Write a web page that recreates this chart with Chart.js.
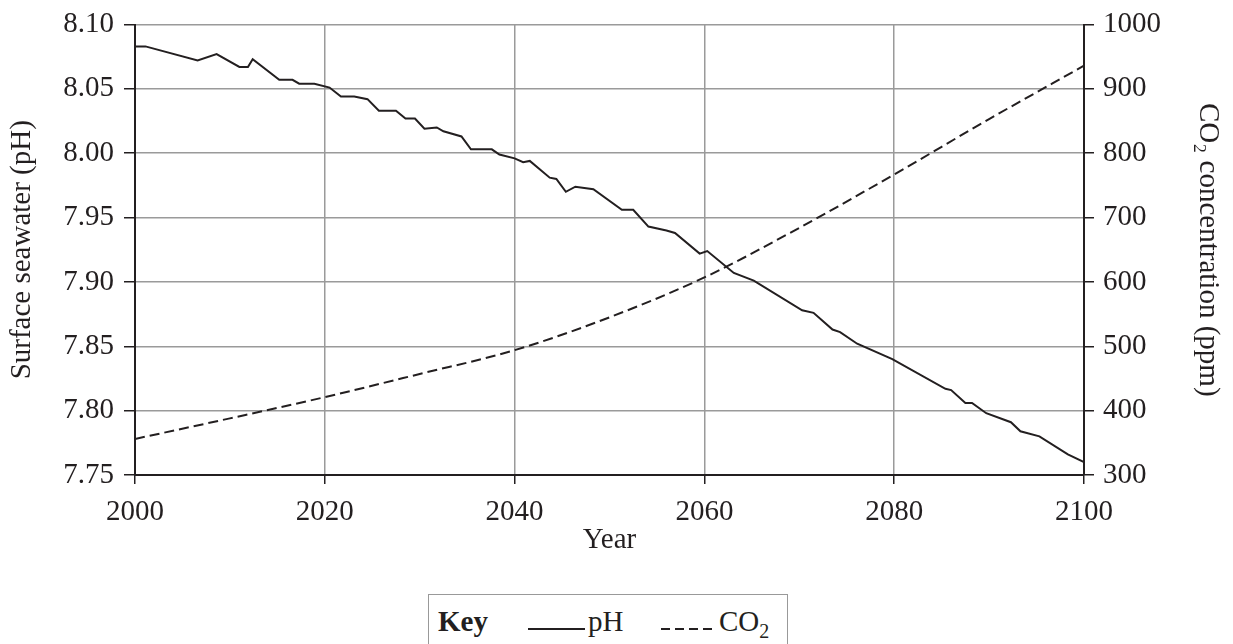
<!DOCTYPE html>
<html>
<head>
<meta charset="utf-8">
<script src="https://cdn.jsdelivr.net/npm/chart.js@4"></script>
<style>
  html, body { margin: 0; padding: 0; background: #fff; overflow: hidden; }
  #wrap { position: relative; width: 1233px; height: 644px; }
  #chart { position: absolute; left: 0; top: 0; }
  #key {
    position: absolute; left: 428px; top: 594px; width: 360px; height: 60px;
    border: 1px solid #999; box-sizing: border-box;
    font-family: "Liberation Serif", "DejaVu Serif", serif; font-size: 29px; color: #231f20;
  }
  #key span { position: absolute; top: 10px; line-height: 32px; white-space: nowrap; }
  #key svg { position: absolute; top: 32px; }
  #key sub { font-size: 20px; vertical-align: -7px; line-height: 0; }
</style>
</head>
<body>
<div id="wrap">
  <canvas id="chart" width="1233" height="575"></canvas>
  <div id="key">
    <span style="left:9px;font-weight:bold">Key</span>
    <svg style="left:99px" width="57" height="4"><line x1="0" y1="2" x2="57" y2="2" stroke="#231f20" stroke-width="2"/></svg>
    <span style="left:159px">pH</span>
    <svg style="left:232px" width="54" height="4"><line x1="0" y1="2" x2="54" y2="2" stroke="#231f20" stroke-width="2" stroke-dasharray="9,5"/></svg>
    <span style="left:290px">CO<sub>2</sub></span>
  </div>
</div>
<script>
const phYears = [2000, 2001.1, 2006.6, 2008.6, 2011.0, 2011.9, 2012.4, 2015.2, 2016.6, 2017.3,
  2018.9, 2020.5, 2021.7, 2023.1, 2024.5, 2025.7, 2027.5, 2028.5, 2029.5, 2030.5,
  2031.8, 2032.5, 2034.4, 2035.4, 2037.6, 2038.4, 2040.0, 2040.9, 2041.6, 2043.7,
  2044.4, 2045.4, 2046.4, 2048.3, 2051.3, 2052.5, 2054.1, 2056.0, 2056.9, 2059.5,
  2060.3, 2063.1, 2065.2, 2070.3, 2071.5, 2073.5, 2074.3, 2076.1, 2079.8, 2085.4,
  2086.0, 2087.5, 2088.2, 2089.7, 2092.3, 2093.3, 2095.3, 2098.3, 2100];
const phValues = [8.083, 8.083, 8.072, 8.077, 8.067, 8.067, 8.073, 8.057, 8.057, 8.054,
  8.054, 8.051, 8.044, 8.044, 8.042, 8.033, 8.033, 8.027, 8.027, 8.019,
  8.020, 8.017, 8.013, 8.003, 8.003, 7.999, 7.996, 7.993, 7.994, 7.981,
  7.980, 7.970, 7.974, 7.972, 7.956, 7.956, 7.943, 7.940, 7.938, 7.922,
  7.924, 7.907, 7.901, 7.878, 7.876, 7.863, 7.861, 7.852, 7.840, 7.817,
  7.816, 7.806, 7.806, 7.798, 7.791, 7.784, 7.780, 7.766, 7.760];

const co2Years = [2000, 2010, 2020, 2030, 2040, 2050, 2060, 2070, 2080, 2090, 2100];
const co2Values = [356, 388, 421, 457, 494, 545, 607, 684, 767, 853, 936];

const yearTicks = [2000, 2020, 2040, 2060, 2080, 2100];

const ink = '#231f20';
const grey = '#9a9a9a';
const serif = '"Liberation Serif", "DejaVu Serif", serif';
const tickFont = { family: serif, size: 29 };
const yTickFont = { family: serif, size: 29, lineHeight: 1 };
const titleFont = { family: serif, size: 29 };

new Chart(document.getElementById('chart'), {
  type: 'line',
  data: {
    datasets: [{
      label: 'pH',
      data: phYears.map((x, i) => ({ x: x, y: phValues[i] })),
      borderColor: ink,
      borderWidth: 2,
      pointRadius: 0,
      tension: 0,
      yAxisID: 'y'
    }, {
      label: 'CO₂',
      data: co2Years.map((x, i) => ({ x: x, y: co2Values[i] })),
      borderColor: ink,
      borderWidth: 2,
      borderDash: [10, 5],
      pointRadius: 0,
      cubicInterpolationMode: 'monotone',
      yAxisID: 'y2'
    }]
  },
  options: {
    responsive: false,
    animation: false,
    layout: { padding: { top: 23, right: 0, left: 0, bottom: 0 } },
    plugins: { legend: { display: false }, tooltip: { enabled: false } },
    scales: {
      x: {
        type: 'linear',
        min: 2000,
        max: 2100,
        afterBuildTicks: s => { s.ticks = yearTicks.map(v => ({ value: v })); },
        afterFit: s => { s.height = 100; },
        ticks: { color: ink, font: tickFont, padding: 11, maxRotation: 0, callback: v => String(v) },
        grid: { color: grey, lineWidth: 1.5, tickColor: ink, tickLength: 9 },
        border: { color: ink, width: 2 },
        title: { display: true, text: 'Year', color: ink, font: titleFont, padding: { top: 0, bottom: 17 } }
      },
      y: {
        position: 'left',
        min: 7.75,
        max: 8.10,
        afterFit: s => { s.width = 135; },
        ticks: { stepSize: 0.05, color: ink, font: yTickFont, padding: 10, callback: v => v.toFixed(2) },
        grid: { color: grey, lineWidth: 1.5, tickColor: ink, tickLength: 11 },
        border: { color: ink, width: 2 },
        title: { display: true, text: 'Surface seawater (pH)', color: ink, font: titleFont, padding: { top: 5, bottom: 0 } }
      },
      y2: {
        position: 'right',
        min: 300,
        max: 1000,
        afterFit: s => { s.width = 149; },
        ticks: { stepSize: 100, color: ink, font: yTickFont, padding: 9, callback: v => String(v) },
        grid: { drawOnChartArea: false, tickColor: ink, tickLength: 10, lineWidth: 1.5 },
        border: { color: ink, width: 2 },
        title: { display: true, text: 'CO₂ concentration (ppm)', color: ink, font: titleFont, padding: { top: 8, bottom: 0 } }
      }
    }
  }
});
</script>
</body>
</html>
